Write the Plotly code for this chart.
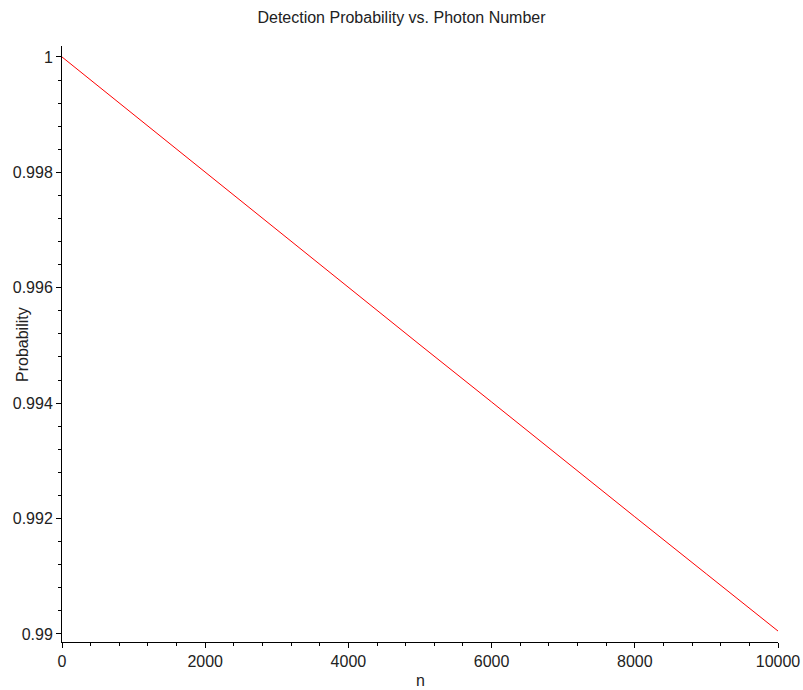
import plotly.graph_objects as go

n_values = [0, 1000, 2000, 3000, 4000, 5000, 6000, 7000, 8000, 9000, 10000]
probability = [1.0, 0.99900, 0.99800, 0.99700, 0.99601, 0.99501, 0.99402, 0.99302, 0.99203, 0.99104, 0.99005]

title_text = "Detection Probability vs. Photon Number"
x_label = "n"
y_label = "Probability"

FONT = "Liberation Sans, Arial, sans-serif"

fig = go.Figure()
fig.add_trace(go.Scatter(
    x=n_values, y=probability, mode="lines",
    line=dict(color="#ff0000", width=1), showlegend=False, hoverinfo="skip"))

W, H = 803, 690
L, R, T, B = 62, 25, 46, 48
plot_h = H - T - B

fig.update_layout(
    width=W, height=H,
    margin=dict(l=L, r=R, t=T, b=B, autoexpand=False),
    paper_bgcolor="white", plot_bgcolor="white",
    font=dict(family=FONT, size=16, color="#222222"),
    title=dict(text=title_text, x=0.5, xref="container", xanchor="center",
               y=1 - 17 / H, yref="container", yanchor="middle",
               font=dict(family=FONT, size=16, color="#222222")),
    xaxis=dict(range=[0, 10000], tick0=0, dtick=2000, tickformat="d",
               automargin=False,
               showgrid=False, zeroline=False,
               showline=True, linecolor="black", linewidth=1,
               ticks="outside", ticklen=5, tickcolor="black", tickwidth=1,
               minor=dict(dtick=400, ticks="outside", ticklen=3, tickcolor="black", showgrid=False),
               tickfont=dict(family=FONT, size=16, color="#222222")),
    yaxis=dict(range=[0.98986, 1.00019], tick0=0.99, dtick=0.002,
               automargin=False,
               showgrid=False, zeroline=False,
               showline=True, linecolor="black", linewidth=1,
               ticks="outside", ticklen=5, tickcolor="black", tickwidth=1,
               minor=dict(dtick=0.0004, ticks="outside", ticklen=3, tickcolor="black", showgrid=False),
               tickfont=dict(family=FONT, size=16, color="#222222")),
    annotations=[
        dict(text=y_label, textangle=-90, xref="paper", yref="paper",
             x=(22 - L) / (W - L - R), y=(H - B - 345) / plot_h,
             xanchor="center", yanchor="middle", showarrow=False,
             font=dict(family=FONT, size=16, color="#222222")),
        dict(text=x_label, xref="paper", yref="paper",
             x=0.5, y=-(680 - (H - B)) / plot_h,
             xanchor="center", yanchor="middle", showarrow=False,
             font=dict(family=FONT, size=16, color="#222222")),
    ],
)

fig.write_html("out.html")
